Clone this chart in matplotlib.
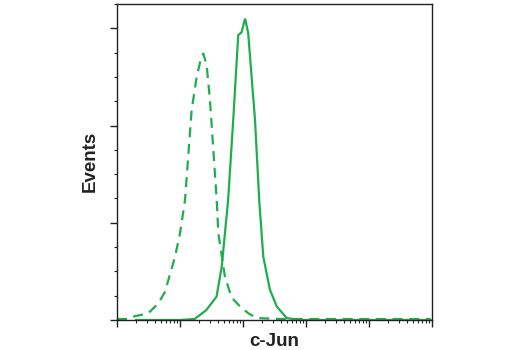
import matplotlib
matplotlib.use("Agg")
import matplotlib.pyplot as plt
from matplotlib.ticker import LogLocator, MultipleLocator, NullFormatter

# Data (x on log scale, y in event counts)
solid_x = [2, 10, 17, 26, 38, 46, 58, 70, 84, 95, 108, 121, 137, 155, 181, 210, 268, 343, 494, 800, 95000]
solid_y = [0, 0, 1, 10, 24, 55, 123, 206, 293, 296, 310, 295, 250, 206, 123, 65, 31, 14, 2, 0, 0]

dashed_x = [1, 1.5, 1.93, 2.32, 3.14, 4.52, 5.78, 8.33, 10, 12, 15.3, 18.4, 20.8, 23.4,
            26.5, 29.9, 38.3, 40.6, 51.8, 66.2, 89.6, 121, 165, 400, 95000]
dashed_y = [1, 1, 4, 5, 7, 17, 29, 65, 89, 123, 216, 250, 265, 274,
            262, 226, 123, 89, 44, 23, 14, 7, 2, 1, 1]

xlabel = "c-Jun"
ylabel = "Events"
green = "#1fae4b"

fig = plt.figure(figsize=(5.2, 3.5), dpi=100)
ax = fig.add_axes([117 / 520, 30 / 350, (432 - 117) / 520, (346 - 30) / 350])

ax.plot(solid_x, solid_y, color=green, lw=1.6, solid_joinstyle="miter")
ax.plot(dashed_x, dashed_y, color=green, lw=1.6, linestyle=(0, (4.5, 3.0)))

ax.set_xscale("log")
ax.set_xlim(1, 1e5)
ax.set_ylim(0, 325)

ax.xaxis.set_major_locator(LogLocator(base=10, numticks=10))
ax.xaxis.set_minor_locator(LogLocator(base=10, subs=range(2, 10), numticks=20))
ax.xaxis.set_major_formatter(NullFormatter())
ax.xaxis.set_minor_formatter(NullFormatter())
ax.yaxis.set_major_locator(MultipleLocator(100))
ax.yaxis.set_minor_locator(MultipleLocator(25))
ax.yaxis.set_major_formatter(NullFormatter())

for s in ax.spines.values():
    s.set_color("#222222")
    s.set_linewidth(1.0)

ax.tick_params(axis="both", which="major", length=5, width=1.0, color="#222222", direction="out")
ax.tick_params(axis="both", which="minor", length=2.5, width=0.8, color="#222222", direction="out")

fam = ["Liberation Sans Narrow", "Liberation Sans", "DejaVu Sans"]
fig.text(90 / 520, 1 - 161 / 350, ylabel, rotation=90, ha="center", va="center",
         fontsize=13.5, fontweight="bold", family=fam, color="#222222")
fig.text(274 / 520, 1 - 341 / 350, xlabel, ha="center", va="center",
         fontsize=13.5, fontweight="bold", family=fam, color="#222222")

fig.savefig("out.png", dpi=100)
